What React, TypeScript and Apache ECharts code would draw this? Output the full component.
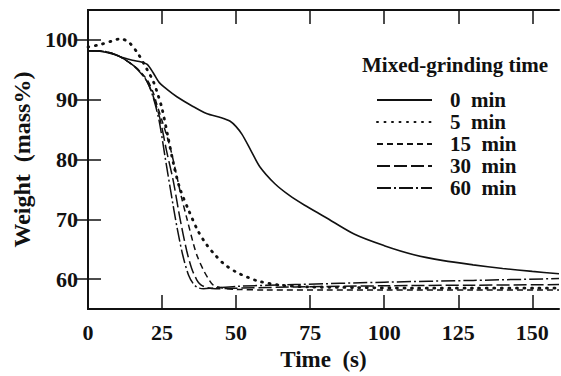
import React, { useEffect, useRef } from "react";
import * as echarts from "echarts";

// ---- data ----
const xTickValues = [0, 25, 50, 75, 100, 125, 150];
const xInnerTicks = [25, 50, 75, 100, 125, 150];
const yTickValues = [60, 70, 80, 90, 100];

const seriesNames = ["0\u00a0\u00a0min", "5\u00a0\u00a0min", "15\u00a0\u00a0min", "30\u00a0\u00a0min", "60\u00a0\u00a0min"];

const t0 = [0, 4, 8, 12, 15, 18, 20, 22, 24, 27, 30, 35, 40, 45, 48, 50, 52, 55, 58, 63, 68, 73, 80, 90, 100, 110, 120, 130, 140, 150, 159];
const v0 = [98.2, 98.1, 97.7, 97.0, 96.6, 96.3, 95.9, 94.5, 92.9, 91.6, 90.5, 89.0, 87.7, 87.0, 86.4, 85.5, 84.2, 81.5, 78.8, 76.0, 74.0, 72.4, 70.4, 67.5, 65.6, 64.1, 63.1, 62.4, 61.8, 61.3, 60.9];

const t5 = [0, 4, 8, 11, 14, 17, 20, 22, 23.5, 25, 27, 29, 31, 34, 37, 40, 43, 46, 50, 54, 58, 65, 75, 90, 110, 130, 159];
const v5 = [98.8, 99.2, 99.8, 100.2, 99.5, 97.6, 95.0, 93.1, 91.0, 88.5, 83.8, 79.0, 75.2, 71.5, 68.2, 65.8, 64.0, 62.5, 61.2, 60.3, 59.6, 59.0, 58.7, 58.6, 58.5, 58.5, 58.5];

const t15 = [0, 5, 10, 14, 17, 20, 22, 23.2, 25, 27.7, 29.9, 31.5, 33.3, 35.6, 37, 39, 40.5, 42.3, 45.7, 50, 60, 80, 100, 130, 159];
const v15 = [98.2, 98.1, 97.4, 96.2, 95.0, 93.3, 91.2, 89.3, 86.5, 82.1, 77.4, 73.8, 70.3, 65.9, 63.7, 61.5, 60.2, 59.0, 58.5, 58.3, 58.2, 58.2, 58.2, 58.2, 58.2];

const t30 = [0, 5, 10, 14, 17, 20, 22, 24.3, 26.5, 28.8, 31, 33.3, 35, 36.7, 38, 40, 43, 50, 70, 100, 130, 159];
const v30 = [98.2, 98.1, 97.4, 96.2, 94.9, 93.0, 90.6, 86.8, 81.5, 76.4, 70.3, 64.8, 61.8, 59.9, 59.1, 58.6, 58.4, 58.5, 58.7, 58.9, 59.0, 59.1];

const t60 = [0, 5, 10, 14, 17, 20, 22, 24, 26, 28, 30, 32, 34, 35.6, 37, 39, 42, 50, 70, 100, 130, 159];
const v60 = [98.2, 98.1, 97.4, 96.2, 95.0, 93.0, 90.4, 86.5, 80.5, 74.5, 68.8, 64.0, 60.6, 59.2, 58.6, 58.4, 58.5, 58.8, 59.1, 59.5, 59.8, 60.1];

const seriesTimes = [t0, t5, t15, t30, t60];
const seriesValues = [v0, v5, v15, v30, v60];

const FONT = "Liberation Serif";
const INK = "#111";

const lineStyles: any[] = [
  { type: "solid", width: 1.6 },
  { type: [1, 6.5], width: 2.8, cap: "round" },
  { type: [6, 4], width: 1.5 },
  { type: [13, 4], width: 1.5 },
  { type: [14, 3, 2, 3], width: 1.5 },
];

export default function App() {
  const ref = useRef<HTMLDivElement>(null);
  useEffect(() => {
    if (!ref.current) return;
    const chart = echarts.init(ref.current, undefined, { renderer: "svg" });
    const axisLine = { show: true, lineStyle: { color: INK, width: 2 } };
    const tickStyle = { color: INK, width: 1.5 };
    const option: any = {
      animation: false,
      backgroundColor: "#fff",
      title: {
        text: "Mixed-grinding time",
        left: 357,
        top: 49,
        textStyle: { fontFamily: FONT, fontWeight: "bold", fontSize: 21, color: INK },
      },
      legend: {
        orient: "vertical",
        left: 371,
        top: 84,
        itemWidth: 55,
        itemHeight: 10,
        itemGap: 0,
        itemStyle: { color: "rgba(0,0,0,0)", borderWidth: 0, opacity: 0 },
        textStyle: {
          fontFamily: FONT,
          fontWeight: "bold",
          fontSize: 21,
          color: INK,
          lineHeight: 22,
          padding: [0, 0, 0, 13],
        },
        data: seriesNames,
      },
      grid: { left: 88, right: 2, top: 10, bottom: 63 },
      xAxis: [
        {
          type: "value",
          min: 0,
          max: 159,
          position: "bottom",
          name: "Time\u00a0\u00a0(s)",
          nameLocation: "middle",
          nameGap: 36,
          nameTextStyle: { fontFamily: FONT, fontWeight: "bold", fontSize: 23, color: INK },
          axisLine,
          axisTick: { show: true, inside: true, length: 14, lineStyle: tickStyle, customValues: xInnerTicks },
          axisLabel: {
            fontFamily: FONT,
            fontWeight: "bold",
            fontSize: 22,
            color: INK,
            margin: 12,
            customValues: xTickValues,
          },
          splitLine: { show: false },
        },
        {
          type: "value",
          min: 0,
          max: 159,
          position: "top",
          axisLine,
          axisTick: { show: true, inside: true, length: 14, lineStyle: tickStyle, customValues: xInnerTicks },
          axisLabel: { show: false },
          splitLine: { show: false },
        },
      ],
      yAxis: [
        {
          type: "value",
          min: 55,
          max: 105,
          position: "left",
          name: "Weight\u00a0\u00a0(mass%)",
          nameLocation: "middle",
          nameGap: 54,
          nameTextStyle: { fontFamily: FONT, fontWeight: "bold", fontSize: 24, color: INK },
          axisLine,
          axisTick: { show: true, inside: true, length: 13, lineStyle: tickStyle, customValues: yTickValues },
          axisLabel: {
            fontFamily: FONT,
            fontWeight: "bold",
            fontSize: 22,
            color: INK,
            margin: 10,
            customValues: yTickValues,
          },
          splitLine: { show: false },
        },
        {
          type: "value",
          min: 55,
          max: 105,
          position: "right",
          axisLine,
          axisTick: { show: true, inside: true, length: 12, lineStyle: tickStyle, customValues: yTickValues },
          axisLabel: { show: false },
          splitLine: { show: false },
        },
      ],
      series: seriesNames.map((name, i) => ({
        name,
        type: "line",
        xAxisIndex: 0,
        yAxisIndex: 0,
        symbol: "none",
        smooth: 0.3,
        color: INK,
        lineStyle: { color: INK, ...lineStyles[i] },
        data: seriesTimes[i].map((t, j) => [t, seriesValues[i][j]]),
      })),
    };
    chart.setOption(option);
    return () => chart.dispose();
  }, []);
  return (
    <div
      ref={ref}
      style={{ position: "fixed", left: 0, top: 0, width: 561, height: 376, background: "#fff" }}
    />
  );
}
